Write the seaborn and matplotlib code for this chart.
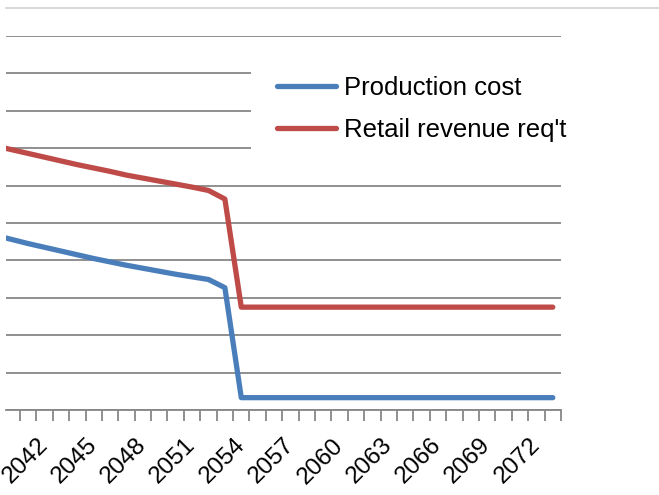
import matplotlib
matplotlib.use("Agg")
import matplotlib.pyplot as plt
import numpy as np
import pandas as pd
import seaborn as sns
from matplotlib.lines import Line2D

years = list(range(2039, 2074))
production_cost = [4.67, 4.56, 4.45, 4.35, 4.25, 4.15, 4.05, 3.96, 3.87, 3.79,
                   3.71, 3.63, 3.56, 3.49, 3.27, 0.33, 0.33, 0.33, 0.33, 0.33,
                   0.33, 0.33, 0.33, 0.33, 0.33, 0.33, 0.33, 0.33, 0.33, 0.33,
                   0.33, 0.33, 0.33, 0.33, 0.33]
retail_revenue = [7.06, 6.96, 6.86, 6.76, 6.66, 6.56, 6.47, 6.38, 6.28, 6.20,
                  6.12, 6.04, 5.96, 5.87, 5.64, 2.75, 2.75, 2.75, 2.75, 2.75,
                  2.75, 2.75, 2.75, 2.75, 2.75, 2.75, 2.75, 2.75, 2.75, 2.75,
                  2.75, 2.75, 2.75, 2.75, 2.75]
series_names = ["Production cost", "Retail revenue req't"]
tick_years = list(range(2042, 2073, 3))
colors = ["#4A7EBB", "#BE4B48"]

df = pd.DataFrame({
    "year": years * 2,
    "value": production_cost + retail_revenue,
    "series": [series_names[0]] * len(years) + [series_names[1]] * len(years),
})

sns.set_theme(style="white")
plt.rcParams["font.family"] = ["Liberation Sans", "DejaVu Sans"]
plt.rcParams["text.color"] = "black"
plt.rcParams["xtick.color"] = "black"

W, H = 659, 495
fig = plt.figure(figsize=(W / 100, H / 100), dpi=100)
ax = fig.add_axes([6 / W, (H - 410) / H, (561 - 6) / W, (410 - 36) / H])

sns.lineplot(data=df, x="year", y="value", hue="series", palette=colors,
             linewidth=3.8, ax=ax, legend=True, zorder=3)

ax.set_xlim(2039.65, 2073.49)
ax.set_ylim(0, 10)
ax.set_yticks(np.arange(0, 11, 1))
ax.yaxis.grid(True, color="#878787", linewidth=1.3)
ax.xaxis.grid(False)
ax.tick_params(axis="y", left=False, labelleft=False)

ax.set_xticks(tick_years)
ax.set_xticklabels([str(y) for y in tick_years], rotation=45, ha="right",
                   va="center", rotation_mode="anchor", fontsize=17.5,
                   color="black")
ax.set_xticks(np.arange(2040.5, 2074, 1), minor=True)
ax.tick_params(axis="x", which="major", length=0, pad=23, labelcolor="black")
ax.tick_params(axis="x", which="minor", length=8, width=1.3, color="#878787",
               direction="out", bottom=True)
ax.set_xlabel("")
ax.set_ylabel("")
for s in ["left", "right", "top"]:
    ax.spines[s].set_visible(False)
ax.spines["bottom"].set_color("#878787")
ax.spines["bottom"].set_linewidth(1.3)

handles, labels = ax.get_legend_handles_labels()
ax.get_legend().remove()
leg = fig.legend(handles, labels, loc="upper left",
                 bbox_to_anchor=(251 / W, 1 - 50 / H), frameon=True,
                 facecolor="white", edgecolor="none", fancybox=False,
                 framealpha=1, fontsize=18.5, handlelength=2.3,
                 handletextpad=0.3, labelspacing=0.72, borderpad=1.0,
                 borderaxespad=0)
for h in leg.legend_handles:
    h.set_linewidth(3.8)
for t in leg.get_texts():
    t.set_color("black")

fig.add_artist(Line2D([6 / W, 1], [1 - 8 / H, 1 - 8 / H], color="#D9D9D9",
                      linewidth=1.5, transform=fig.transFigure))

fig.savefig("out.png", dpi=100, facecolor="white")
